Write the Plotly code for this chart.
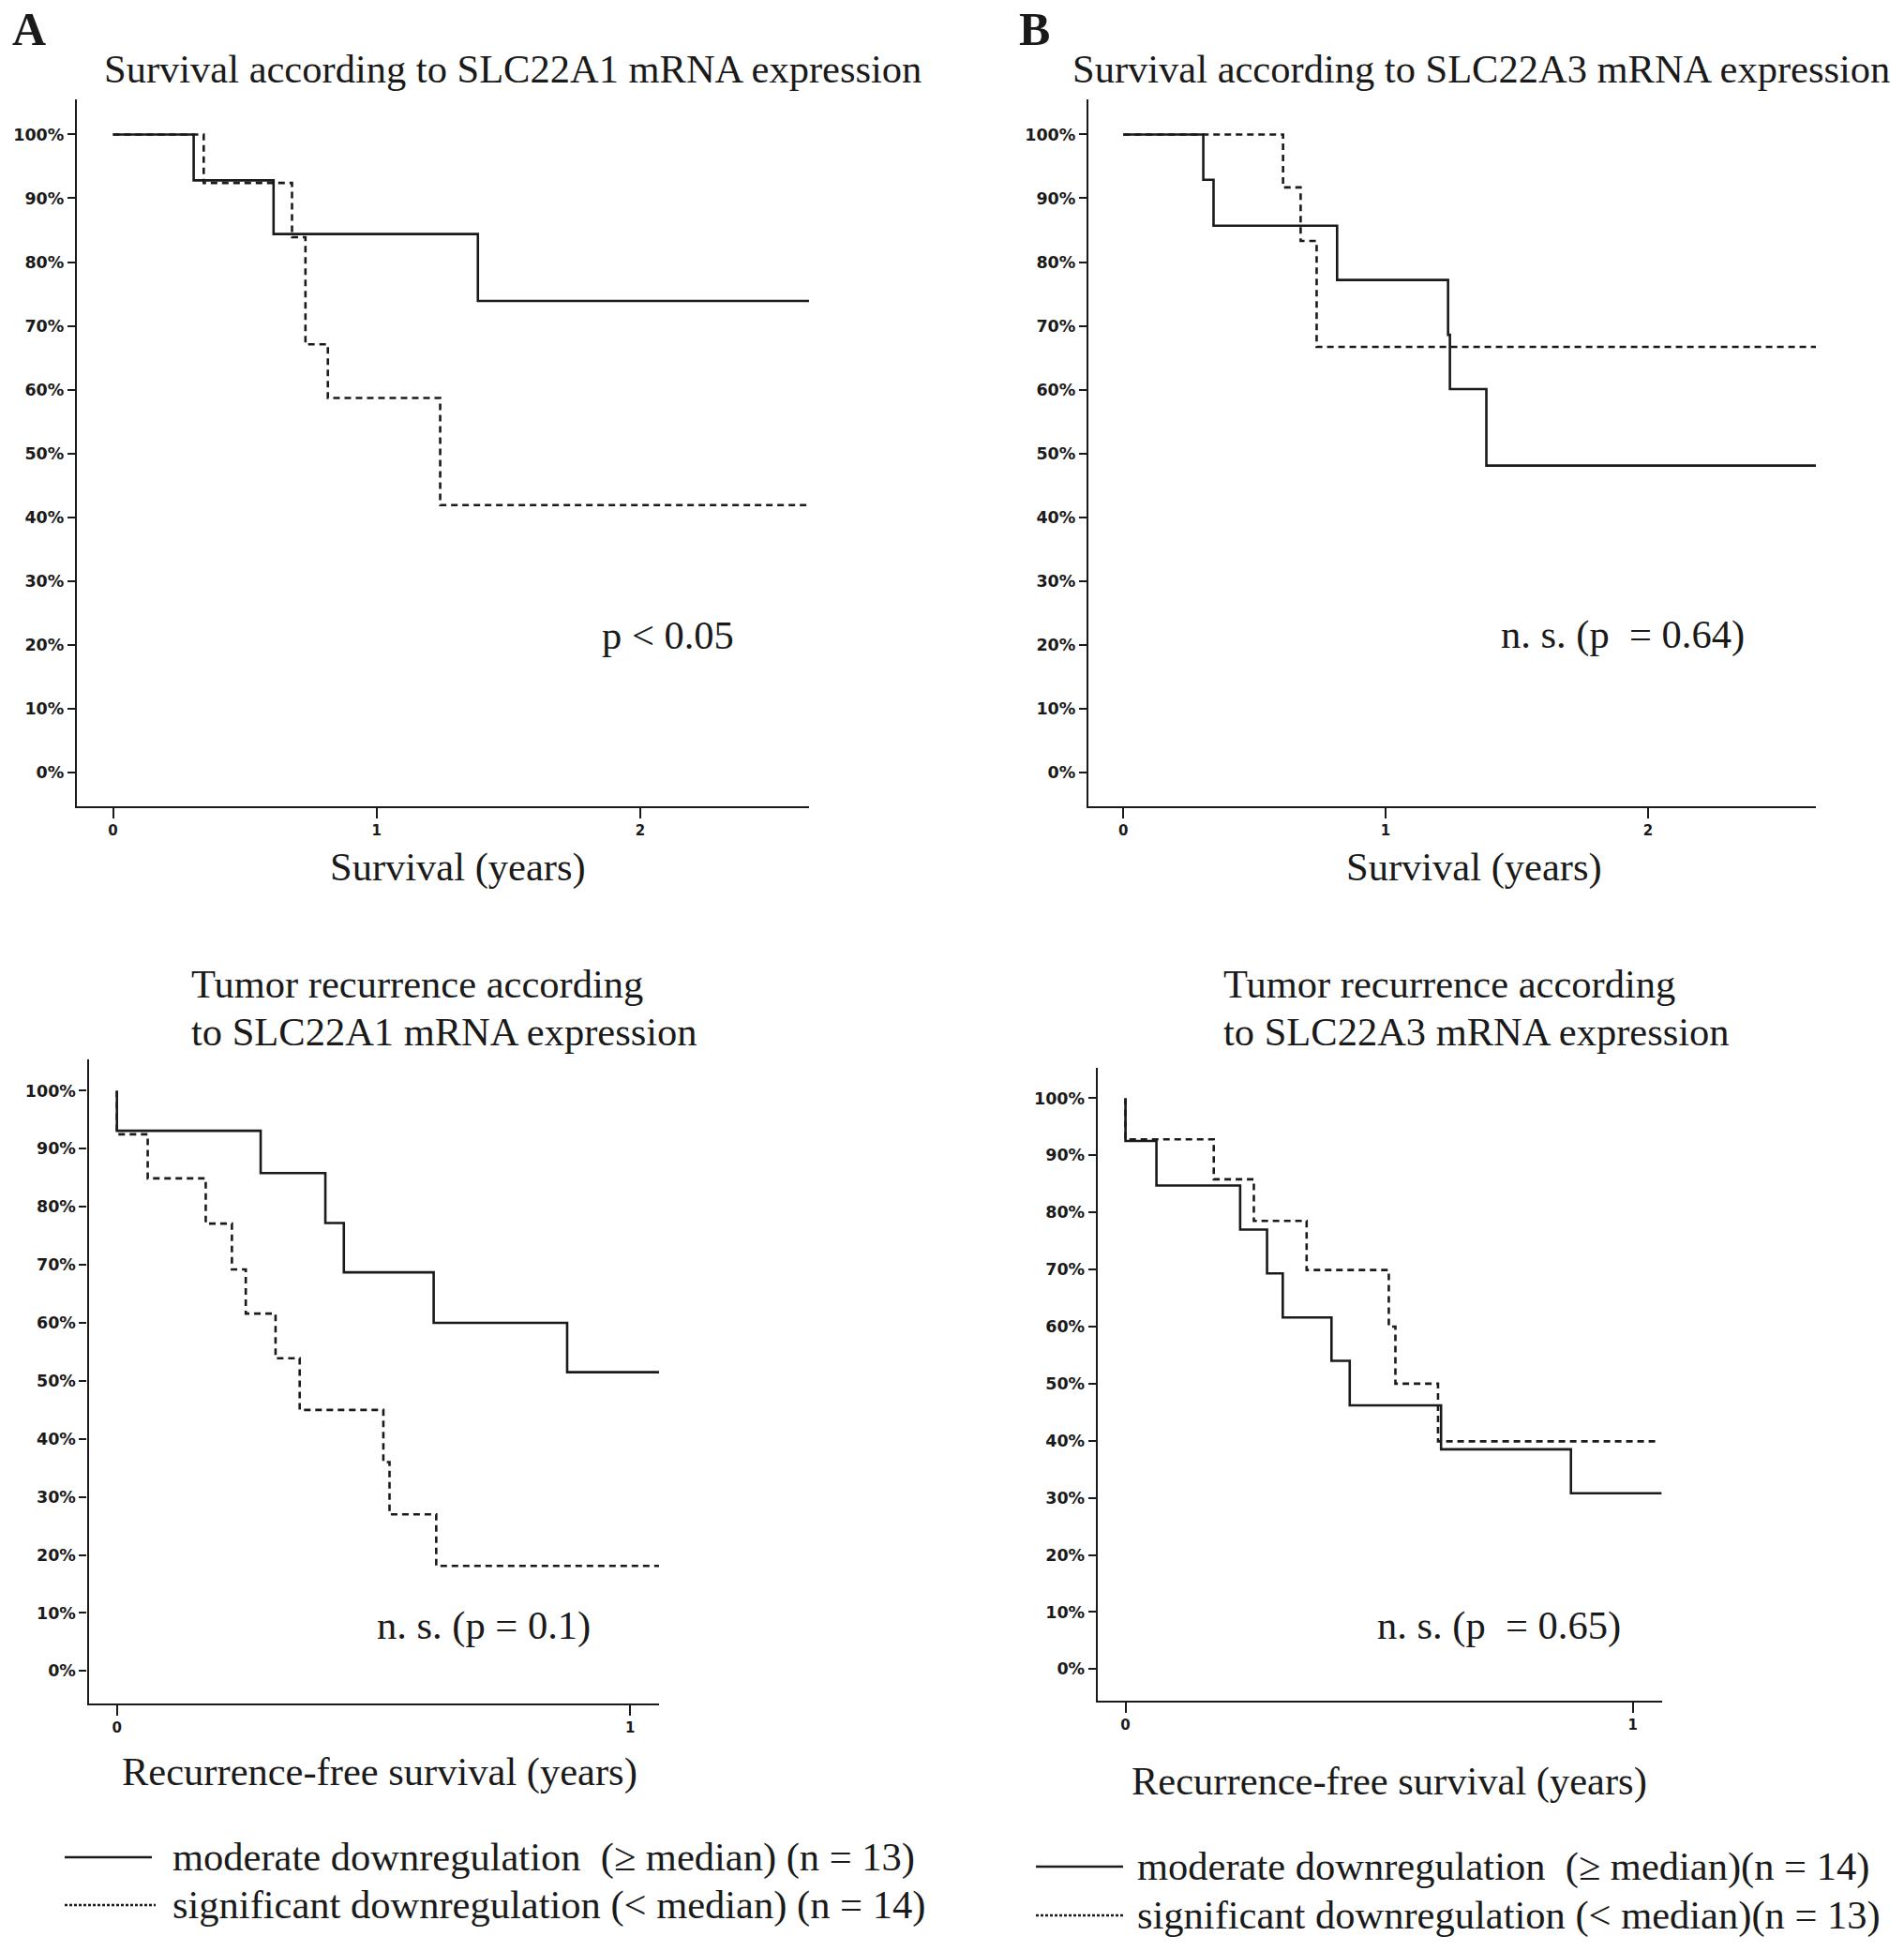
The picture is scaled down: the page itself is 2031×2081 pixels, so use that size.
import plotly.graph_objects as go

# ---------------- data ----------------
# Panel A top: overall survival, SLC22A1
A1_mod_t = [0.306, 0.609, 1.384]
A1_mod_s = [92.8, 84.4, 73.9]
A1_sig_t = [0.344, 0.679, 0.730, 0.815, 1.241]
A1_sig_s = [92.4, 83.9, 67.1, 58.7, 41.9]
A1_end = 2.64

# Panel B top: overall survival, SLC22A3
B1_mod_t = [0.305, 0.344, 0.815, 1.238, 1.245, 1.384]
B1_mod_s = [92.9, 85.7, 77.2, 68.6, 60.1, 48.1]
B1_sig_t = [0.609, 0.676, 0.737]
B1_sig_s = [91.7, 83.3, 66.7]
B1_end = 2.64

# Panel A bottom: recurrence-free survival, SLC22A1
A2_mod_t = [0.0, 0.280, 0.406, 0.442, 0.617, 0.877]
A2_mod_s = [93.1, 85.8, 77.2, 68.7, 60.0, 51.5]
A2_sig_t = [0.0, 0.060, 0.173, 0.224, 0.251, 0.309, 0.356, 0.519, 0.531, 0.622]
A2_sig_s = [92.5, 84.9, 77.1, 69.2, 61.6, 53.9, 45.0, 36.0, 27.0, 18.1]
A2_end = 1.056

# Panel B bottom: recurrence-free survival, SLC22A3
B2_mod_t = [0.0, 0.061, 0.226, 0.279, 0.310, 0.406, 0.442, 0.622, 0.878]
B2_mod_s = [92.5, 84.7, 77.0, 69.3, 61.6, 54.0, 46.2, 38.5, 30.8]
B2_sig_t = [0.0, 0.174, 0.253, 0.357, 0.519, 0.532, 0.616]
B2_sig_s = [92.8, 85.8, 78.5, 69.9, 60.0, 50.0, 39.9]
B2_end_mod = 1.057
B2_end_sig = 1.044

y_ticks = [0, 10, 20, 30, 40, 50, 60, 70, 80, 90, 100]
y_tick_labels = [f"{v}%" for v in y_ticks]
top_x_ticks = [0, 1, 2]
bottom_x_ticks = [0, 1]

W, H = 2031, 2081
SERIF = "Liberation Serif, Times New Roman, serif"
SANS = "DejaVu Sans, Verdana, sans-serif"
INK = "#1a1a1a"
FS = 42.5

def px(x):
    return x / W

def py(y):
    return 1 - y / H

fig = go.Figure()

def add_curve(t, s, end, xa, ya, dashed):
    xs = [0.0] + list(t) + [end]
    ys = [100.0] + list(s) + [s[-1]]
    fig.add_trace(go.Scatter(
        x=xs, y=ys, mode="lines", line_shape="hv",
        line=dict(color=INK, width=2.6, dash="7px,5px" if dashed else "solid"),
        xaxis=xa, yaxis=ya, showlegend=False, hoverinfo="skip"))

add_curve(A1_mod_t, A1_mod_s, A1_end, "x", "y", False)
add_curve(A1_sig_t, A1_sig_s, A1_end, "x", "y", True)
add_curve(B1_mod_t, B1_mod_s, B1_end, "x2", "y2", False)
add_curve(B1_sig_t, B1_sig_s, B1_end, "x2", "y2", True)
add_curve(A2_mod_t, A2_mod_s, A2_end, "x3", "y3", False)
add_curve(A2_sig_t, A2_sig_s, A2_end, "x3", "y3", True)
add_curve(B2_mod_t, B2_mod_s, B2_end_mod, "x4", "y4", False)
add_curve(B2_sig_t, B2_sig_s, B2_end_sig, "x4", "y4", True)

def xaxis(domain, rng, ticks, anchor):
    return dict(domain=domain, range=rng, anchor=anchor,
                showline=True, linecolor=INK, linewidth=2.4,
                showgrid=False, zeroline=False,
                ticks="outside", ticklen=11, tickwidth=2.2, tickcolor=INK,
                tickvals=ticks, ticktext=[f"<b>{v}</b>" for v in ticks],
                tickfont=dict(family=SANS, size=15, color=INK))

def yaxis(domain, rng, anchor):
    return dict(domain=domain, range=rng, anchor=anchor,
                showline=True, linecolor=INK, linewidth=2.4,
                showgrid=False, zeroline=False,
                ticks="outside", ticklen=8, tickwidth=2.2, tickcolor=INK,
                tickvals=y_ticks, ticktext=[f"<b>{t}</b>" for t in y_tick_labels],
                tickfont=dict(family=SANS, size=17.5, color=INK))

top_y = [py(860), py(106)]
fig.update_layout(
    width=W, height=H,
    margin=dict(l=0, r=0, t=0, b=0),
    paper_bgcolor="white", plot_bgcolor="white",
    xaxis=xaxis([px(82), px(863)], [-0.137, 2.64], top_x_ticks, "y"),
    yaxis=yaxis(top_y, [-5.3, 105.5], "x"),
    xaxis2=xaxis([px(1161), px(1937)], [-0.133, 2.64], top_x_ticks, "y2"),
    yaxis2=yaxis(top_y, [-5.3, 105.5], "x2"),
    xaxis3=xaxis([px(94.6), px(703)], [-0.055, 1.056], bottom_x_ticks, "y3"),
    yaxis3=yaxis([py(1817), py(1130)], [-5.6, 105.4], "x3"),
    xaxis4=xaxis([px(1170.8), px(1772.6)], [-0.055, 1.057], bottom_x_ticks, "y4"),
    yaxis4=yaxis([py(1813.8), py(1138.5)], [-5.5, 105.4], "x4"),
)

NB = "\u00a0"
def txt(text, x, y, size=FS, xanchor="center", bold=False, family=SERIF):
    fig.add_annotation(text=f"<b>{text}</b>" if bold else text,
                       x=px(x), y=py(y), xref="paper", yref="paper",
                       xanchor=xanchor, yanchor="middle", showarrow=False,
                       font=dict(family=family, size=size, color=INK))

# panel letters
txt("A", 31, 31, size=50, xanchor="center", bold=True)
txt("B", 1103, 31, size=50, xanchor="center", bold=True)

# titles
txt("Survival according to SLC22A1 mRNA expression", 547, 73)
txt("Survival according to SLC22A3 mRNA expression", 1580, 73)
txt("Tumor recurrence according", 202, 1049, xanchor="left")
txt("to SLC22A1 mRNA expression", 202, 1100, xanchor="left")
txt("Tumor recurrence according", 1303, 1049, xanchor="left")
txt("to SLC22A3 mRNA expression", 1303, 1100, xanchor="left")

# axis titles
txt("Survival (years)", 488, 925)
txt("Survival (years)", 1572, 925)
txt("Recurrence\u2010free survival (years)", 405, 1890)
txt("Recurrence\u2010free survival (years)", 1482, 1900)

# p values
txt("p < 0.05", 712, 677)
txt(f"n. s. (p {NB}= 0.64)", 1731, 677)
txt("n. s. (p = 0.1)", 516, 1734)
txt(f"n. s. (p {NB}= 0.65)", 1599, 1734)

# legends (sample lines + labels)
def legend_row(x0, x1, y, dashed, label, tx):
    fig.add_shape(type="line", xref="paper", yref="paper",
                  x0=px(x0), x1=px(x1), y0=py(y), y1=py(y),
                  line=dict(color=INK, width=2.6 if not dashed else 2.4,
                            dash="3px,2px" if dashed else "solid"))
    txt(label, tx, y, xanchor="left")

legend_row(69, 162, 1981, False, f"moderate downregulation {NB}(\u2265 median) (n = 13)", 182)
legend_row(69, 166, 2032, True, "significant downregulation (< median) (n = 14)", 182)
legend_row(1105, 1198, 1991, False, f"moderate downregulation {NB}(\u2265 median)(n = 14)", 1211)
legend_row(1105, 1200, 2043, True, "significant downregulation (< median)(n = 13)", 1211)

fig.write_html("out.html", config={"displayModeBar": False},
               post_script="document.body.style.margin='0';")
